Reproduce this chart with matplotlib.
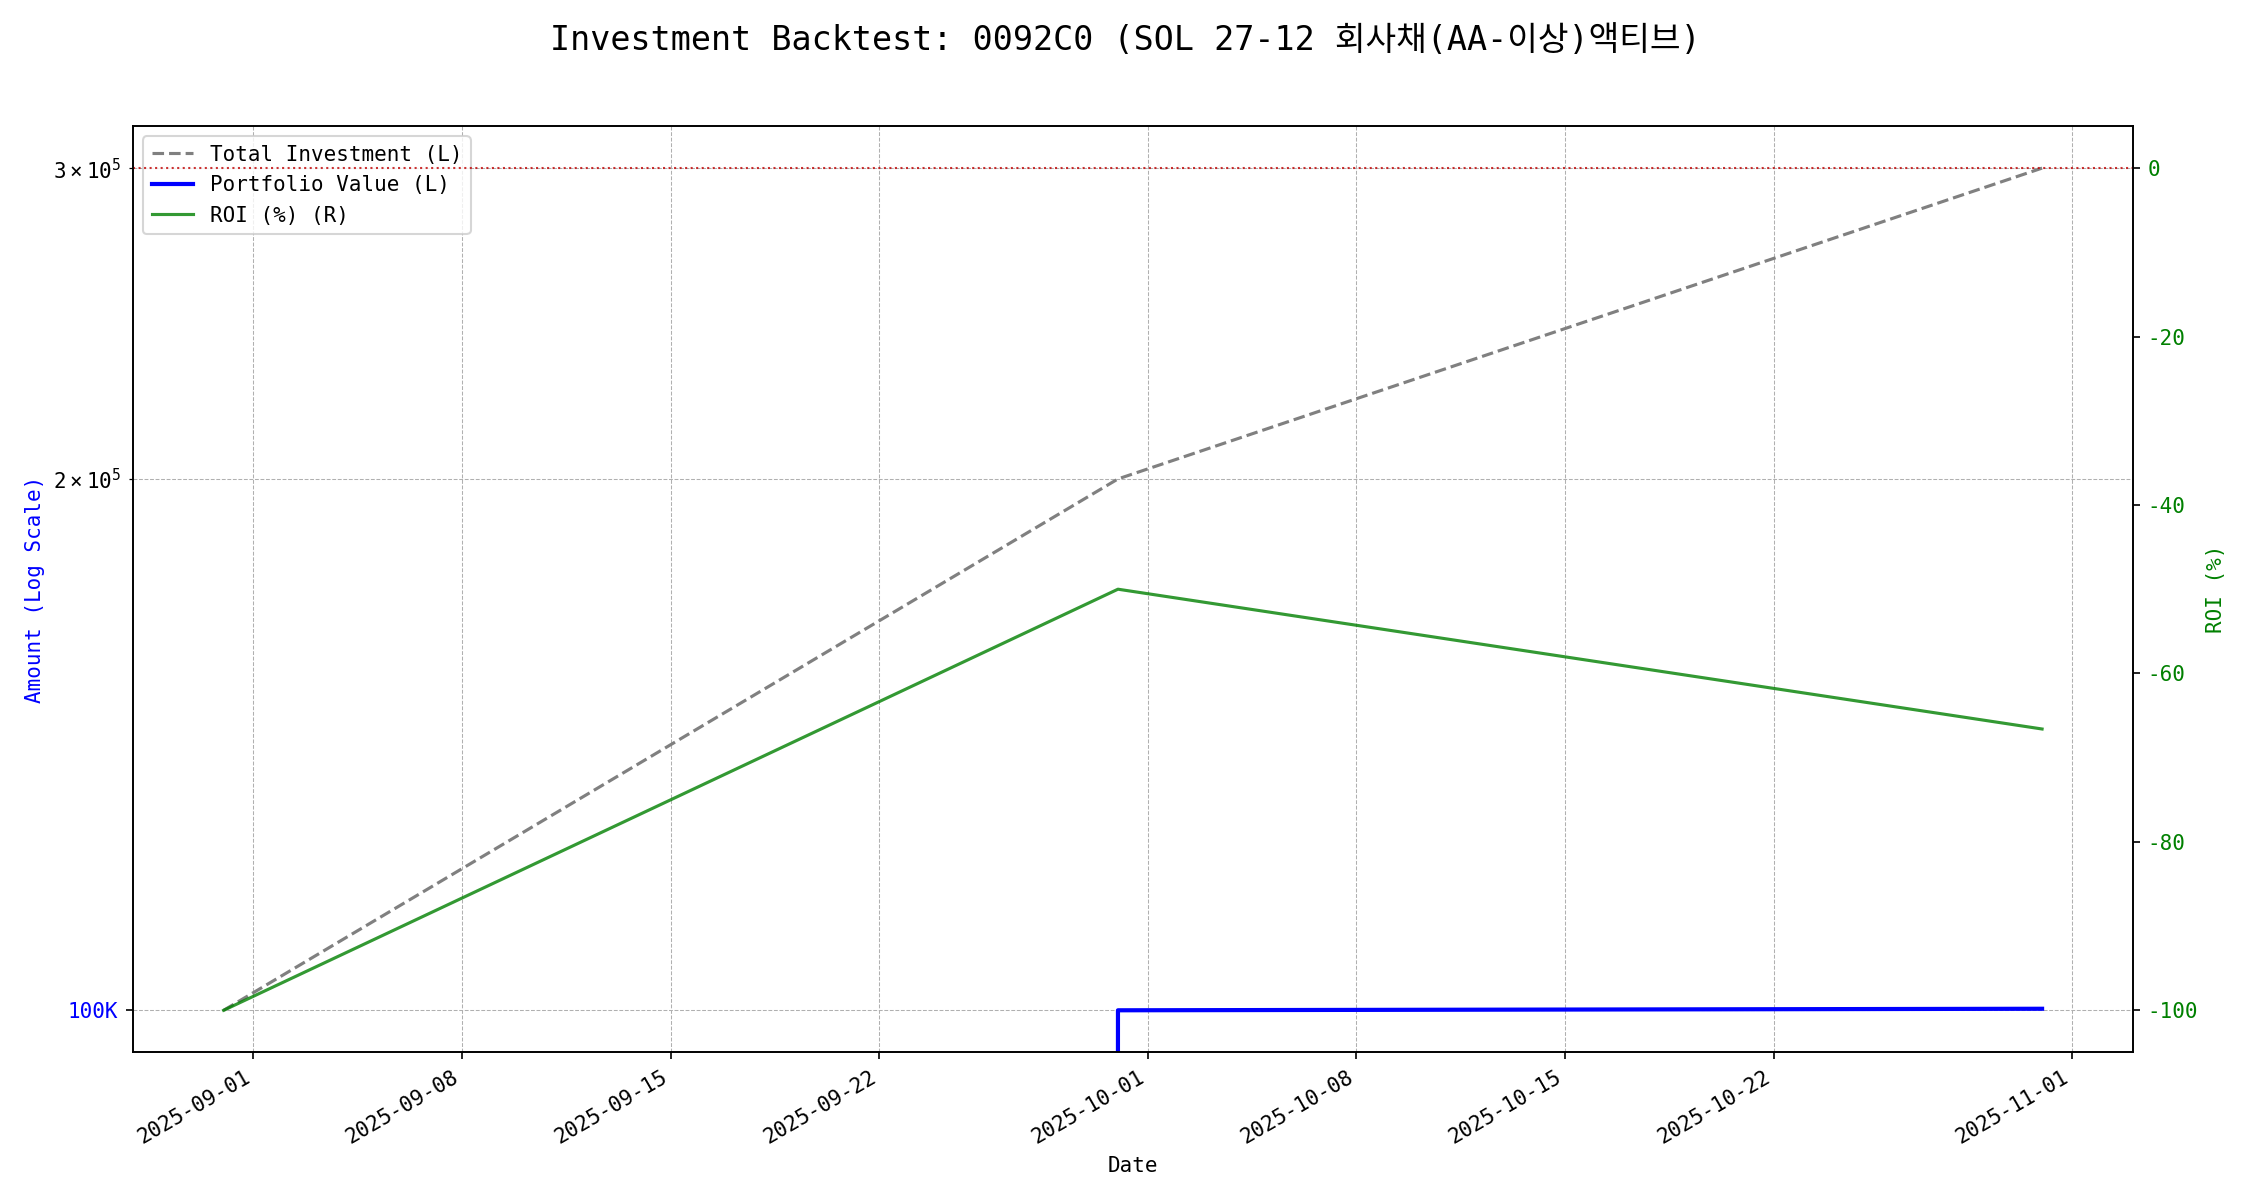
import numpy as np
import pandas as pd
import matplotlib
matplotlib.use('Agg')
import matplotlib.pyplot as plt
import matplotlib.ticker as mticker

plt.rcParams['font.family'] = ['DejaVu Sans Mono', 'Noto Sans CJK KR']
plt.rcParams['axes.unicode_minus'] = False

title = 'Investment Backtest: 0092C0 (SOL 27-12 회사채(AA-이상)액티브)'
dates = pd.to_datetime(['2025-08-31', '2025-09-30', '2025-10-31'])
total_investment = [100000, 200000, 300000]
portfolio_value = [0, 100000, 100200]
roi = [-100.0, -50.0, -66.6]

fig, ax1 = plt.subplots(figsize=(15, 8), dpi=150)

l1, = ax1.plot(dates, total_investment, color='gray', linestyle='--', linewidth=1.5,
               label='Total Investment (L)')
l2, = ax1.plot(dates, portfolio_value, color='blue', linewidth=2, label='Portfolio Value (L)')
ax1.set_yscale('log')
ax1.yaxis.set_major_formatter(mticker.FuncFormatter(
    lambda v, p: f'{v / 1000:.0f}K' if v >= 1000 else f'{v:.0f}'))
ax1.set_xlabel('Date')
ax1.set_ylabel('Amount (Log Scale)', color='blue')
ax1.tick_params(axis='y', labelcolor='blue')
ax1.grid(True, which='both', linestyle='--', linewidth=0.5, color='#b0b0b0')

ax2 = ax1.twinx()
l3, = ax2.plot(dates, roi, color='green', alpha=0.8, linewidth=1.5, label='ROI (%) (R)')
ax2.axhline(0, color='#c00000', linestyle=':', linewidth=1, alpha=0.8)
ax2.set_ylabel('ROI (%)', color='green')
ax2.tick_params(axis='y', labelcolor='green')

ax1.legend(handles=[l1, l2, l3], loc='upper left')

fig.suptitle(title, fontsize=16)
fig.autofmt_xdate()
fig.subplots_adjust(left=0.059, right=0.948, top=0.895, bottom=0.123)
plt.savefig('out.png')
